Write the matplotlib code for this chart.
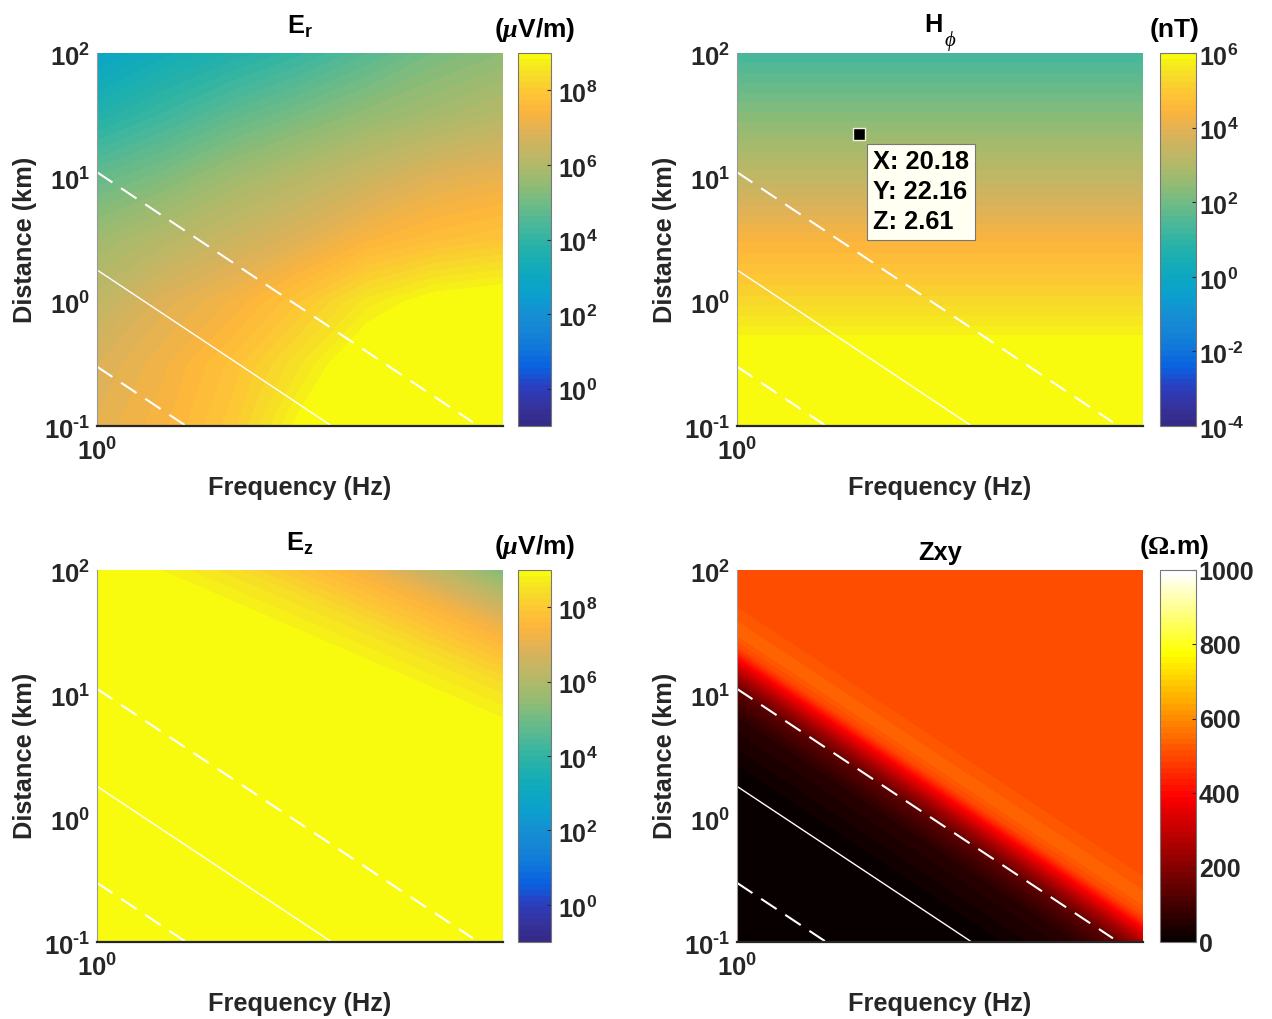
import numpy as np
import matplotlib
matplotlib.use("Agg")
import matplotlib.pyplot as plt
from matplotlib.cm import ScalarMappable
from matplotlib.colors import LinearSegmentedColormap, LogNorm, Normalize
from matplotlib.scale import LogTransform
from matplotlib.ticker import NullLocator
from matplotlib.transforms import Affine2D, BlendedGenericTransform

plt.rcParams["font.family"] = ["Liberation Sans", "DejaVu Sans"]
plt.rcParams["font.weight"] = "bold"
plt.rcParams["axes.labelweight"] = "bold"
plt.rcParams["axes.titleweight"] = "bold"
plt.rcParams["mathtext.fontset"] = "custom"
plt.rcParams["mathtext.rm"] = "Liberation Sans:bold"
plt.rcParams["mathtext.bf"] = "Liberation Sans:bold"
plt.rcParams["mathtext.it"] = "Liberation Serif:italic"
plt.rcParams["mathtext.sf"] = "Liberation Serif"
plt.rcParams["mathtext.default"] = "bf"

freq_nodes = [1, 5.3, 28, 147, 780, 4150, 22000]
dist_nodes = [100, 31.6, 10, 3.16, 1, 0.316, 0.1]

er_log = [
    [2.8, 3.3, 3.7, 4.1, 4.6, 5.1, 5.4],
    [3.7, 4.2, 4.7, 5.1, 5.5, 5.8, 6.1],
    [4.8, 5.2, 5.7, 6.1, 6.5, 6.9, 7.1],
    [5.7, 6.1, 6.5, 6.9, 7.4, 7.7, 7.9],
    [6.3, 6.9, 7.3, 7.9, 8.6, 9.05, 9.2],
    [6.8, 7.25, 7.8, 8.5, 9.3, 9.5, 9.5],
    [7.0, 7.4, 8.0, 8.95, 9.3, 9.6, 9.6],
]
hphi_log = [1.3, 2.3, 3.3, 4.4, 5.3, 6.3, 7.3]

# E_z and Zxy only change across the diagonal: d0 is the distance where an isoline meets 1 Hz
ez_d0 = [2600, 1480, 885, 510, 292, 164, 150, 0.1]
ez_log = [5.2, 6.3, 7.2, 7.85, 8.45, 8.85, 9.6, 11.0]
zxy_d0 = [15849, 56, 45, 40, 31, 25, 22.4, 19.5, 14.8, 10.7, 6.5, 2.6, 0.55, 0.1]
zxy_rho = [510, 510, 520, 530, 537, 505, 464, 390, 260, 135, 60, 14, 6, 4]

# skin depth lines
line_freq = [1, 10500]
line_dist_upper = [11, 0.107]
solid_freq = [1, 324]
solid_dist = [1.8, 0.1]
lower_freq = [1, 9]
lower_dist = [0.3, 0.1]

tip_x = 20.18
tip_y = 22.16
tip_z = 2.61

parula = LinearSegmentedColormap.from_list("parula_like", [
    (0, "#352A87"), (0.05, "#35339F"), (0.1, "#2A3FC0"), (0.15, "#0A60E0"), (0.2, "#0F75DC"),
    (0.25, "#1585D5"), (0.3, "#1590D3"), (0.35, "#0CA0CE"), (0.4, "#0DA8C0"), (0.45, "#1AAEB2"),
    (0.5, "#2FB4A3"), (0.55, "#50B896"), (0.6, "#70BB85"), (0.65, "#93BB73"), (0.7, "#AFB96A"),
    (0.75, "#C8B562"), (0.8, "#E2B155"), (0.85, "#FDB53C"), (0.9, "#FDC635"), (0.95, "#F6DE26"),
    (0.985, "#F7F018"), (1, "#F9FB0E")], N=64)
hot_like = LinearSegmentedColormap.from_list(
    "hot_like", [(0, "#080000"), (0.39, "#FF0000"), (0.78, "#FFFF00"), (1, "#FFFFFF")], N=64)

W, H = 1272, 1019
DARK = "#262626"
DASHES = (0, (8.9, 5))


def px_axes(fig, left, top, right, bottom):
    return fig.add_axes([left / W, 1 - bottom / H, (right - left) / W, (bottom - top) / H])


def shift_labels(axis, dy):
    # labels in the reference sit a little below their ticks
    for lab in axis.get_ticklabels():
        lab.set_transform(lab.get_transform() + Affine2D().translate(0, dy))


def style_axes(ax):
    ax.set_xscale("log")
    ax.set_yscale("log")
    ax.set_xlim(1, 22000)
    ax.set_ylim(0.1, 100)
    ax.set_xticks([1], [r"$10^{0}$"])
    ax.set_yticks([0.1, 1, 10, 100],
                  [r"$10^{\text{-}1}$", r"$10^{0}$", r"$10^{1}$", r"$10^{2}$"])
    ax.xaxis.set_minor_locator(NullLocator())
    ax.yaxis.set_minor_locator(NullLocator())
    ax.tick_params(length=0, labelsize=18.5, colors=DARK)
    ax.tick_params(axis="x", pad=9)
    ax.tick_params(axis="y", pad=5)
    shift_labels(ax.yaxis, -2)
    ax.spines["top"].set_visible(False)
    ax.spines["right"].set_visible(False)
    ax.spines["left"].set_color("#999999")
    ax.spines["left"].set_linewidth(0.8)
    ax.spines["bottom"].set_color(DARK)
    ax.spines["bottom"].set_linewidth(1.6)
    ax.set_xlabel("Frequency (Hz)", fontsize=18.3, color=DARK, va="center")
    ax.set_ylabel("Distance (km)", fontsize=18.3, color=DARK, va="center")
    ax.xaxis.set_label_coords(0.5, -0.167)
    ax.yaxis.set_label_coords(-0.178, 0.5)
    ax.set_axisbelow(False)


def add_lines(ax):
    ax.plot(line_freq, line_dist_upper, color="white", lw=1.5, ls=DASHES)
    ax.plot(solid_freq, solid_dist, color="white", lw=1.0)
    ax.plot(lower_freq, lower_dist, color="white", lw=1.5, ls=DASHES)


def draw_field(ax, x, y, z, cmap, vmin, vmax):
    # contour in log10 coordinates so the bands stay straight between nodes on log axes
    inv = LogTransform(10).inverted()
    to_data = BlendedGenericTransform(inv, inv) + ax.transData
    levels = np.linspace(vmin, vmax, 65)
    ax.contourf(x, y, z, levels=levels, cmap=cmap, norm=Normalize(vmin, vmax),
                extend="both", transform=to_data)
    style_axes(ax)
    add_lines(ax)


def draw_diagonal(ax, d0, values, slope, cmap, vmin, vmax):
    # grid sheared along the isolines, two columns are enough
    ends = np.log10([freq_nodes[0], freq_nodes[-1]])
    d0_log = np.log10(d0)
    x = np.tile(ends, (len(d0_log), 1))
    y = d0_log[:, None] + slope * x
    draw_field(ax, x, y, np.column_stack([values, values]), cmap, vmin, vmax)


def add_cbar(fig, box, norm, cmap, ticks, labels, unit, unit_x=0.5, pad=5, dy=-2):
    cax = px_axes(fig, *box)
    cb = fig.colorbar(ScalarMappable(norm=norm, cmap=cmap), cax=cax)
    cb.set_ticks(ticks, labels=labels)
    cax.yaxis.set_minor_locator(NullLocator())
    cax.tick_params(direction="in", length=3, width=0.8, labelsize=18, colors=DARK, pad=pad)
    shift_labels(cax.yaxis, dy)
    cb.outline.set_edgecolor("#777777")
    cb.outline.set_linewidth(0.8)
    cax.text(unit_x, 1 + 23 / 373, unit, transform=cax.transAxes, ha="center", va="center",
             fontsize=19, color="black")
    return cax


fig = plt.figure(figsize=(W / 100, H / 100), dpi=100)

log_f = np.log10(freq_nodes)
log_d = np.log10(dist_nodes)

log_ticks_e = [1, 1e2, 1e4, 1e6, 1e8]
log_lab_e = [r"$10^{0}$", r"$10^{2}$", r"$10^{4}$", r"$10^{6}$", r"$10^{8}$"]
log_ticks_h = [1e-4, 1e-2, 1, 1e2, 1e4, 1e6]
log_lab_h = [r"$10^{\text{-}4}$", r"$10^{\text{-}2}$", r"$10^{0}$", r"$10^{2}$", r"$10^{4}$", r"$10^{6}$"]
mu_unit = r"($\mathit{\mu}$V/m)"

# E_r
ax = px_axes(fig, 97, 53, 503, 426)
draw_field(ax, log_f, log_d, np.array(er_log), parula, -1, 9)
ax.set_title(r"$E_r$", fontsize=18.3, color="black", pad=14)
add_cbar(fig, (518, 53, 551, 426), LogNorm(0.1, 1e9), parula, log_ticks_e, log_lab_e, mu_unit)

# H_phi
ax = px_axes(fig, 737, 53, 1143, 426)
hphi_grid = np.column_stack([hphi_log, hphi_log])
draw_field(ax, log_f[[0, -1]], log_d, hphi_grid, parula, -4, 6)
ax.text(0.485, 1.075, "H", transform=ax.transAxes, ha="center", va="center",
        fontsize=18.3, color="black")
ax.text(0.525, 1.032, "\u03d5", transform=ax.transAxes, ha="center", va="center",
        fontsize=15, color="black", family=["Liberation Serif", "DejaVu Serif"],
        style="italic", weight="normal")
add_cbar(fig, (1160, 53, 1196, 426), LogNorm(1e-4, 1e6), parula, log_ticks_h, log_lab_h, "(nT)",
         0.4, pad=2)
ax.plot([tip_x], [tip_y], "s", ms=8, mfc="black", mec="#F2F2E0", mew=1)
ax.annotate(f"X: {tip_x}\nY: {tip_y}\nZ: {tip_z}", xy=(tip_x, tip_y), xytext=(14, -16),
            textcoords="offset pixels", ha="left", va="top", fontsize=18.3, color="black",
            linespacing=1.3,
            bbox=dict(boxstyle="square,pad=0.25", fc="#FFFFF2", ec="#777777", lw=0.8))

# E_z
ax = px_axes(fig, 97, 570, 503, 942)
draw_diagonal(ax, ez_d0, ez_log, -0.326, parula, -1, 9)
ax.set_title(r"$E_z$", fontsize=18.3, color="black", pad=14)
add_cbar(fig, (518, 570, 551, 942), LogNorm(0.1, 1e9), parula, log_ticks_e, log_lab_e, mu_unit)

# Zxy
ax = px_axes(fig, 737, 570, 1143, 942)
draw_diagonal(ax, zxy_d0, zxy_rho, -0.5, hot_like, 0, 1000)
ax.set_title("Zxy", fontsize=18.3, color="black", pad=7)
add_cbar(fig, (1160, 570, 1196, 942), Normalize(0, 1000), hot_like,
         [0, 200, 400, 600, 800, 1000], ["0", "200", "400", "600", "800", "1000"],
         r"($\mathsf{\Omega}$.m)", 0.4, pad=2, dy=0)

fig.savefig("out.png", dpi=100)
